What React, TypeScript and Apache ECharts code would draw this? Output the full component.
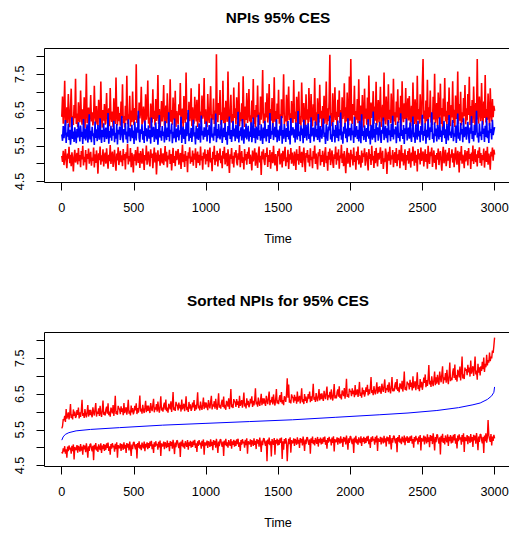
import React, { useEffect, useRef } from "react";
import * as echarts from "echarts";

// ---------- data (read / estimated from the reference) ----------
const titles = ["NPIs 95% CES", "Sorted NPIs for 95% CES"];
const xAxisTitle = "Time";
const xTicks = [0, 500, 1000, 1500, 2000, 2500, 3000];
const yTicks = [4.5, 5, 5.5, 6, 6.5, 7, 7.5, 8];
const yLabels = [4.5, 5.5, 6.5, 7.5];
const timeRange = [1, 3000];

// Panel 1: upper limit (red), sampled evenly over time 1..3000
const upperNPI = [
  6.31, 6.88, 6.12, 6.45, 7.32, 6.05, 6.22, 6.58, 6.14, 6.95, 6.38, 6.02, 6.47, 7.10, 6.19, 6.33, 6.08, 6.64, 6.27, 7.38,
  6.11, 6.40, 6.03, 6.72, 6.25, 6.16, 7.05, 6.35, 6.09, 6.52, 6.21, 6.86, 6.00, 6.43, 7.52, 6.13, 6.29, 6.57, 6.06, 6.36,
  6.92, 6.18, 6.44, 6.07, 6.26, 7.18, 6.34, 6.10, 6.61, 6.23, 6.04, 6.79, 6.39, 6.15, 7.30, 6.28, 6.01, 6.50, 6.20, 6.67,
  6.09, 6.37, 6.98, 6.12, 6.24, 6.55, 6.05, 7.12, 6.30, 6.17, 6.46, 6.02, 6.83, 6.26, 6.11, 7.41, 6.35, 6.07, 6.59, 6.19,
  6.42, 6.06, 6.74, 6.28, 7.22, 6.13, 6.33, 6.01, 6.62, 6.21, 7.46, 6.10, 6.38, 6.24, 6.90, 6.04, 6.49, 6.16, 7.02, 6.31,
  6.08, 6.56, 6.22, 7.78, 6.14, 6.35, 6.03, 6.71, 6.27, 6.45, 7.15, 6.09, 6.19, 6.60, 6.32, 6.05, 6.94, 6.23, 6.41, 7.33,
  6.12, 6.29, 6.00, 6.68, 6.37, 6.15, 7.08, 6.25, 6.48, 6.07, 6.81, 6.20, 6.34, 7.48, 6.11, 6.53, 6.02, 6.26, 6.75, 6.18,
  6.44, 7.20, 6.06, 6.31, 6.63, 6.13, 6.97, 6.39, 6.04, 6.25, 7.36, 6.17, 6.50, 6.09, 6.85, 6.30, 6.21, 7.04, 6.03, 6.47,
  6.27, 6.10, 6.66, 6.36, 7.26, 6.08, 6.22, 6.54, 6.01, 6.89, 6.32, 6.14, 7.55, 6.24, 6.42, 6.06, 6.73, 6.19, 6.35, 7.11,
  6.05, 6.58, 6.28, 6.12, 6.87, 6.40, 6.18, 6.79, 6.03, 6.33, 7.24, 6.15, 6.46, 6.09, 6.91, 6.26, 6.37, 7.40, 6.11, 6.52,
  6.20, 6.02, 6.95, 6.31, 6.14, 6.63, 7.17, 6.07, 6.38, 6.23, 6.82, 6.11, 6.49, 6.04, 8.06, 6.29, 6.16, 6.70, 6.36, 7.06,
  6.09, 6.44, 6.21, 7.32, 6.13, 6.57, 6.02, 6.76, 6.34, 6.17, 7.58, 6.26, 6.06, 6.48, 6.93, 6.15, 6.39, 6.01, 7.13, 6.28,
  6.55, 6.10, 6.86, 6.24, 6.37, 7.28, 6.05, 6.44, 6.19, 6.69, 6.12, 7.45, 6.32, 6.03, 6.60, 6.22, 6.98, 6.14, 6.41, 7.09,
  6.18, 6.35, 6.07, 6.77, 6.26, 7.37, 6.11, 6.50, 6.01, 6.64, 6.30, 7.19, 6.16, 6.43, 6.08, 6.88, 6.23, 6.56, 7.62, 6.13,
  6.40, 6.04, 6.72, 6.29, 6.97, 6.15, 6.36, 7.23, 6.09, 6.53, 6.20, 6.84, 6.02, 6.31, 7.42, 6.17, 6.47, 6.06, 6.68, 6.25,
  7.07, 6.12, 6.38, 6.00, 6.80, 6.27, 6.49, 7.50, 6.10, 6.34, 6.18, 6.93, 6.05, 6.59, 7.16, 6.22, 6.41, 6.08, 6.75, 6.30,
  6.14, 7.34, 6.25, 6.46, 6.03, 6.87, 6.19, 6.62, 7.02, 6.11, 6.33, 6.06, 7.27, 6.40, 6.16, 6.70, 6.28, 6.01, 6.94, 6.23,
  6.52, 6.09, 7.12, 6.37, 6.17, 6.95, 6.29, 6.04, 6.66, 6.21, 7.40, 6.13, 6.44, 6.07, 6.83, 6.32, 6.15, 7.21, 6.26, 6.48,
  6.02, 6.61, 6.24, 6.90, 6.12, 6.35, 7.30, 6.08, 6.55, 6.19, 6.76, 8.05, 6.27, 6.42, 6.05, 6.97, 6.16, 6.38, 7.14, 6.22,
  6.45, 6.06, 6.79, 6.31, 7.05, 6.14, 6.50, 6.03, 6.86, 6.25, 6.40, 7.25, 6.10, 6.58, 6.18, 6.99, 6.33, 6.07, 7.44, 6.20,
  7.93, 6.28, 6.11, 6.67, 6.36, 7.18, 6.04, 6.47, 6.23, 6.81, 6.13, 7.36, 6.30, 6.08, 6.63, 6.21, 6.92, 6.39, 6.01, 7.10,
  6.26, 6.54, 6.09, 6.85, 6.17, 7.47, 6.34, 6.05, 6.71, 6.28, 6.43, 7.03, 6.12, 6.60, 6.20, 7.29, 6.07, 6.37, 6.78, 6.15,
  6.48, 7.15, 6.03, 6.32, 6.65, 6.19, 7.55, 6.27, 6.10, 6.88, 6.40, 6.06, 7.22, 6.24, 6.51, 6.13, 6.96, 6.35, 6.02, 7.38,
  6.18, 6.44, 6.08, 6.74, 6.29, 7.08, 6.14, 6.57, 6.22, 6.90, 6.04, 7.31, 6.36, 6.16, 6.69, 6.25, 7.12, 6.09, 6.46, 6.83,
  6.21, 6.89, 6.33, 6.05, 6.62, 6.17, 7.27, 6.41, 6.11, 6.80, 6.28, 6.03, 7.46, 6.23, 6.53, 6.12, 6.94, 6.38, 6.07, 7.19,
  7.93, 6.26, 6.49, 6.10, 6.77, 6.19, 7.35, 6.04, 6.58, 6.30, 7.05, 6.15, 6.42, 6.08, 6.87, 6.24, 7.52, 6.13, 6.37, 6.70,
  6.06, 6.99, 6.27, 6.45, 7.24, 6.11, 6.56, 6.02, 6.82, 6.32, 7.40, 6.18, 6.48, 6.09, 6.73, 6.22, 7.13, 6.35, 6.05, 6.64,
  6.29, 7.31, 6.14, 6.51, 6.03, 6.91, 6.25, 6.39, 7.58, 6.12, 6.67, 6.20, 7.01, 6.07, 6.44, 6.17, 6.84, 6.33, 7.20, 6.10,
  6.55, 6.21, 6.95, 6.36, 7.43, 6.08, 6.61, 6.26, 6.78, 6.14, 7.16, 6.40, 6.04, 6.70, 6.23, 7.93, 6.31, 6.12, 6.88, 6.46,
  6.19, 7.26, 6.37, 6.09, 6.74, 6.28, 7.48, 6.15, 6.53, 6.22, 6.96, 6.34, 6.06, 7.11, 6.43, 6.18, 6.81, 6.30, 6.62, 6.48,
];

// Panel 1: point estimate (blue)
const pointNPI = [
  5.82, 5.64, 6.05, 5.71, 5.93, 6.22, 5.58, 5.87, 5.76, 6.12, 5.66, 5.95, 5.53, 5.80, 6.30, 5.69, 5.90, 5.61, 6.02, 5.78,
  5.57, 5.97, 5.73, 6.16, 5.84, 5.62, 6.07, 5.75, 5.89, 5.55, 6.25, 5.70, 5.99, 5.65, 5.86, 6.10, 5.59, 5.81, 6.38, 5.68,
  5.92, 5.60, 6.03, 5.77, 5.85, 5.52, 6.18, 5.72, 5.96, 5.63, 6.08, 5.79, 5.67, 6.27, 5.83, 5.58, 5.94, 5.74, 6.13, 5.61,
  5.88, 6.01, 5.69, 5.80, 6.42, 5.56, 5.91, 5.73, 6.06, 5.64, 5.98, 5.78, 6.20, 5.60, 5.86, 5.70, 6.11, 5.54, 5.95, 5.82,
  6.04, 5.66, 5.89, 6.33, 5.75, 5.59, 5.97, 5.81, 6.14, 5.68, 5.90, 5.57, 6.24, 5.76, 6.00, 5.63, 5.84, 6.09, 5.71, 5.93,
  5.55, 6.17, 5.79, 5.65, 6.02, 5.87, 6.48, 5.72, 5.60, 5.96, 5.83, 6.10, 5.67, 5.91, 5.58, 6.21, 5.77, 5.99, 5.62, 5.85,
  6.07, 5.70, 5.94, 5.56, 6.29, 5.74, 5.88, 6.03, 5.61, 5.80, 6.15, 5.68, 5.97, 5.53, 5.86, 6.36, 5.73, 5.92, 5.64, 6.05,
  5.78, 5.90, 5.59, 6.19, 5.82, 5.66, 6.01, 5.75, 6.44, 5.62, 5.95, 5.84, 6.12, 5.57, 5.89, 5.71, 6.26, 5.79, 5.60, 5.98,
  5.74, 6.09, 5.65, 5.93, 5.81, 6.31, 5.58, 5.87, 6.04, 5.69, 5.96, 5.55, 6.16, 5.77, 5.91, 6.50, 5.63, 5.85, 5.72, 6.00,
  5.61, 5.94, 6.23, 5.76, 5.88, 5.54, 6.06, 5.70, 5.99, 5.66, 6.13, 5.83, 5.59, 6.35, 5.79, 5.92, 5.67, 6.02, 5.75, 5.86,
  6.18, 5.62, 5.95, 5.80, 6.08, 5.57, 5.90, 6.27, 5.73, 5.84, 5.64, 6.03, 5.78, 6.40, 5.60, 5.97, 5.71, 6.11, 5.85, 5.68,
  5.93, 6.22, 5.58, 5.82, 6.00, 5.74, 6.14, 5.66, 5.89, 5.53, 6.05, 5.79, 6.32, 5.69, 5.94, 5.61, 5.87, 6.19, 5.76, 5.98,
  5.63, 6.09, 5.81, 5.70, 6.45, 5.59, 5.92, 5.77, 6.02, 5.65, 6.25, 5.84, 5.56, 5.96, 5.73, 6.12, 5.68, 5.88, 6.06, 5.62,
  5.90, 5.75, 6.16, 5.60, 5.86, 6.29, 5.72, 5.99, 5.57, 6.04, 5.80, 5.67, 6.37, 5.78, 5.93, 5.64, 6.10, 5.83, 5.55, 6.01,
  5.71, 6.20, 5.85, 5.62, 5.97, 5.76, 6.08, 5.58, 6.42, 5.69, 5.91, 5.81, 6.14, 5.66, 5.89, 6.03, 5.74, 6.24, 5.60, 5.95,
  5.82, 5.64, 6.06, 5.78, 6.33, 5.56, 5.94, 5.70, 6.11, 5.87, 5.61, 6.00, 5.75, 6.19, 5.68, 5.92, 5.54, 6.28, 5.79, 5.88,
  6.02, 5.73, 5.96, 5.59, 6.15, 5.84, 5.67, 6.47, 5.77, 5.90, 5.63, 6.07, 5.80, 5.98, 5.57, 6.23, 5.72, 5.86, 6.09, 5.65,
  5.94, 6.13, 5.69, 5.83, 5.58, 6.30, 5.76, 5.91, 6.01, 5.62, 5.88, 6.18, 5.74, 5.97, 5.66, 6.39, 5.79, 5.60, 6.05, 5.85,
  5.70, 5.99, 6.26, 5.75, 5.87, 5.55, 6.10, 5.81, 5.64, 6.04, 5.93, 6.35, 5.68, 5.82, 5.61, 6.16, 5.77, 5.95, 5.59, 6.08,
  5.86, 5.72, 6.21, 5.63, 5.96, 5.79, 6.43, 5.67, 5.90, 5.56, 6.03, 5.84, 6.14, 5.71, 5.98, 5.60, 6.27, 5.76, 5.89, 6.00,
  5.65, 6.12, 5.80, 5.93, 5.58, 6.31, 5.74, 5.87, 6.05, 5.69, 5.95, 5.62, 6.19, 5.83, 5.57, 6.38, 5.78, 5.91, 5.66, 6.07,
  5.88, 5.61, 6.00, 5.76, 6.24, 5.70, 5.92, 5.54, 6.09, 5.85, 5.67, 6.46, 5.73, 5.97, 5.60, 6.14, 5.81, 6.02, 5.64, 5.90,
  6.17, 5.77, 5.58, 5.95, 5.84, 6.29, 5.66, 5.89, 6.06, 5.71, 5.99, 5.59, 6.22, 5.80, 5.93, 5.63, 6.11, 5.75, 6.34, 5.68,
  5.96, 5.82, 6.04, 5.57, 5.90, 6.18, 5.72, 5.86, 5.62, 6.41, 5.78, 5.94, 5.69, 6.08, 5.55, 5.99, 5.83, 6.26, 5.65, 5.88,
  6.01, 5.70, 6.15, 5.79, 5.61, 5.97, 6.32, 5.74, 5.87, 5.58, 6.10, 5.85, 5.67, 6.20, 5.76, 5.92, 5.60, 6.05, 5.81, 6.37,
  5.64, 5.91, 5.78, 6.13, 5.56, 5.95, 5.73, 6.25, 5.83, 5.66, 6.02, 5.89, 6.44, 5.69, 5.84, 5.59, 6.16, 5.77, 5.98, 5.62,
  6.08, 5.86, 5.68, 6.30, 5.75, 5.93, 5.61, 6.04, 5.80, 6.19, 5.71, 5.96, 5.55, 6.11, 5.88, 5.65, 6.36, 5.79, 5.90, 5.72,
  5.99, 6.22, 5.63, 5.85, 5.76, 6.07, 5.58, 5.92, 6.40, 5.70, 5.87, 5.64, 6.14, 5.82, 5.97, 5.60, 6.27, 5.74, 5.89, 6.03,
  5.67, 5.94, 6.17, 5.78, 5.57, 6.01, 5.84, 6.33, 5.69, 5.91, 5.62, 6.09, 5.80, 5.95, 6.48, 5.73, 5.86, 5.59, 6.12, 5.77,
  5.90, 5.66, 6.20, 5.83, 5.98, 5.61, 6.06, 5.75, 6.29, 5.71, 5.93, 5.58, 6.14, 5.86, 5.97, 5.68, 6.23, 5.80, 5.92, 6.02,
];

// Panel 1: lower limit (red)
const lowerNPI = [
  5.22, 5.05, 5.36, 4.96, 5.18, 5.41, 5.09, 4.87, 5.28, 5.14, 5.47, 5.01, 5.25, 4.93, 5.32, 5.11, 4.78, 5.20, 5.39, 5.03,
  5.16, 5.30, 4.98, 5.44, 5.07, 5.24, 4.90, 5.35, 5.12, 5.50, 4.95, 5.19, 5.04, 5.38, 4.83, 5.27, 5.13, 5.42, 5.00, 5.21,
  5.33, 4.94, 5.17, 5.08, 5.45, 4.89, 5.26, 5.02, 5.37, 5.15, 4.72, 5.29, 5.10, 5.48, 4.97, 5.23, 5.06, 5.40, 4.92, 5.19,
  5.31, 5.00, 5.43, 5.12, 4.86, 5.25, 5.07, 5.52, 4.99, 5.20, 5.34, 4.91, 5.14, 5.39, 5.03, 4.80, 5.28, 5.09, 5.46, 4.96,
  5.18, 5.36, 5.04, 5.23, 4.93, 5.41, 5.10, 5.27, 4.84, 5.32, 5.15, 5.55, 4.98, 5.21, 5.06, 5.44, 4.90, 5.30, 5.12, 4.75,
  5.26, 5.08, 5.38, 4.95, 5.19, 5.47, 5.02, 5.29, 4.88, 5.35, 5.13, 5.00, 5.42, 5.17, 4.82, 5.24, 5.09, 5.51, 4.97, 5.22,
  5.34, 5.05, 4.92, 5.40, 5.16, 5.28, 4.87, 5.20, 5.45, 5.03, 5.31, 4.70, 5.14, 5.37, 5.07, 5.25, 4.94, 5.43, 5.11, 5.01,
  5.29, 4.96, 5.18, 5.49, 5.06, 5.33, 4.89, 5.23, 5.12, 5.39, 4.99, 5.27, 4.81, 5.15, 5.44, 5.02, 5.21, 4.93, 5.36, 5.10,
  5.24, 5.41, 4.97, 5.13, 5.30, 4.85, 5.19, 5.53, 5.04, 5.26, 4.91, 5.35, 5.08, 5.22, 4.76, 5.32, 5.15, 5.46, 5.00, 5.20,
  5.05, 5.37, 4.94, 5.28, 5.11, 5.43, 4.88, 5.17, 5.34, 5.02, 5.25, 4.95, 5.48, 5.09, 5.21, 4.83, 5.31, 5.14, 5.40, 4.98,
  5.27, 5.07, 5.39, 4.90, 5.20, 5.45, 5.03, 5.16, 4.79, 5.33, 5.12, 5.50, 4.96, 5.24, 5.06, 5.36, 4.92, 5.29, 5.10, 5.42,
  5.01, 5.23, 4.87, 5.35, 5.14, 5.47, 4.98, 5.19, 5.30, 4.93, 5.40, 5.08, 4.74, 5.26, 5.13, 5.44, 5.00, 5.22, 4.89, 5.32,
  5.17, 5.38, 5.04, 4.95, 5.29, 5.11, 5.52, 4.90, 5.21, 5.35, 5.02, 5.18, 4.84, 5.41, 5.09, 5.27, 4.97, 5.33, 5.14, 5.46,
  4.99, 5.25, 5.10, 4.81, 5.37, 5.06, 5.20, 5.43, 4.94, 5.31, 5.15, 4.88, 5.28, 5.48, 5.03, 5.22, 4.68, 5.34, 5.12, 5.40,
  5.08, 4.96, 5.30, 5.19, 5.45, 4.91, 5.24, 5.05, 5.38, 4.86, 5.16, 5.32, 5.01, 5.50, 5.13, 4.95, 5.27, 5.09, 4.79, 5.35,
  5.21, 5.42, 4.98, 5.14, 5.29, 4.89, 5.36, 5.07, 5.23, 5.47, 4.93, 5.18, 5.04, 5.39, 4.85, 5.26, 5.11, 5.44, 5.00, 5.31,
  5.12, 4.94, 5.34, 5.20, 4.82, 5.40, 5.09, 5.27, 4.97, 5.49, 5.15, 5.02, 5.33, 4.90, 5.22, 5.45, 5.06, 4.77, 5.30, 5.17,
  5.38, 5.03, 5.25, 4.92, 5.43, 5.10, 5.19, 4.87, 5.35, 5.14, 5.51, 4.99, 5.28, 5.08, 4.84, 5.32, 5.21, 5.41, 4.95, 5.24,
  5.05, 5.36, 5.16, 4.91, 5.29, 5.46, 5.01, 5.22, 4.80, 5.33, 5.11, 5.42, 4.96, 5.18, 5.37, 5.04, 4.88, 5.26, 5.13, 5.48,
  4.97, 5.31, 5.09, 5.40, 4.86, 5.23, 5.15, 5.53, 5.02, 5.28, 4.93, 5.35, 5.07, 4.73, 5.20, 5.44, 5.00, 5.30, 5.17, 4.90,
  5.39, 5.12, 5.26, 4.95, 5.45, 5.05, 5.21, 4.83, 5.34, 5.10, 5.48, 4.98, 5.24, 5.14, 4.89, 5.37, 5.03, 5.29, 5.19, 5.43,
  4.94, 5.18, 5.32, 5.06, 4.81, 5.41, 5.13, 5.27, 4.96, 5.50, 5.09, 5.22, 4.88, 5.35, 5.01, 5.44, 5.16, 4.92, 5.30, 5.11,
  5.25, 5.46, 4.99, 5.20, 5.36, 4.85, 5.15, 5.04, 5.42, 5.28, 4.71, 5.19, 5.33, 5.08, 5.47, 4.97, 5.23, 5.12, 5.38, 4.90,
  5.17, 5.32, 5.02, 5.44, 4.93, 5.26, 5.10, 5.39, 4.87, 5.21, 5.52, 5.06, 5.30, 4.95, 5.14, 5.40, 4.82, 5.24, 5.09, 5.35,
  5.00, 5.43, 5.15, 4.89, 5.31, 5.07, 5.48, 5.19, 4.94, 5.36, 5.03, 5.25, 4.78, 5.41, 5.12, 5.29, 4.98, 5.45, 5.08, 5.22,
  5.34, 4.92, 5.18, 5.40, 5.05, 5.27, 4.86, 5.50, 5.13, 4.99, 5.33, 5.21, 5.45, 4.91, 5.16, 5.37, 5.02, 5.24, 4.84, 5.30,
  5.11, 5.42, 4.96, 5.23, 5.35, 5.06, 4.80, 5.28, 5.47, 5.01, 5.19, 5.39, 4.93, 5.14, 5.31, 5.08, 5.44, 4.88, 5.26, 5.17,
  5.40, 5.03, 5.29, 4.90, 5.20, 5.46, 5.12, 4.97, 5.36, 5.22, 4.75, 5.33, 5.09, 5.49, 5.00, 5.25, 5.15, 4.87, 5.38, 5.06,
  5.21, 5.35, 4.95, 5.44, 5.13, 5.27, 4.85, 5.31, 5.07, 5.51, 4.99, 5.18, 5.41, 5.04, 5.26, 4.92, 5.37, 5.16, 5.46, 5.02,
  5.30, 4.94, 5.24, 5.10, 5.42, 4.89, 5.19, 5.36, 5.05, 5.47, 4.97, 5.28, 5.14, 4.83, 5.33, 5.20, 5.45, 5.08, 5.39, 5.25,
];

// Panel 2: sorted point estimate (blue), smooth curve
const sortedTime = [1, 10, 25, 50, 100, 200, 400, 700, 1000, 1300, 1600, 1900, 2200, 2400, 2600, 2750, 2850, 2900, 2950, 2980, 2995, 3000];
const sortedPoint = [5.21, 5.30, 5.37, 5.42, 5.47, 5.51, 5.56, 5.63, 5.68, 5.73, 5.78, 5.85, 5.92, 5.97, 6.04, 6.12, 6.20, 6.25, 6.35, 6.45, 6.55, 6.70];

// Panel 2: upper limit ordered by the point estimate
const sortedUpper = [
  5.54, 5.60, 5.80, 5.77, 5.89, 5.72, 6.08, 5.81, 5.90, 5.99, 5.79, 5.95, 6.22, 5.83, 5.93, 5.79, 6.07, 5.89, 6.01, 5.83,
  5.88, 6.05, 5.92, 6.12, 5.82, 5.99, 5.86, 6.03, 6.34, 5.89, 5.97, 5.83, 6.08, 5.93, 5.85, 6.00, 6.19, 5.87, 6.06, 5.91,
  6.06, 5.93, 5.85, 6.13, 5.99, 5.90, 6.08, 6.25, 5.87, 6.01, 5.95, 6.10, 5.89, 6.17, 5.97, 5.86, 6.04, 6.32, 5.92, 6.00,
  5.90, 6.07, 6.15, 5.95, 6.24, 5.91, 6.01, 5.87, 6.12, 6.06, 5.96, 6.19, 5.89, 6.08, 6.45, 5.94, 6.02, 5.92, 6.17, 6.10,
  6.07, 5.94, 6.16, 6.00, 6.10, 5.91, 6.25, 5.97, 6.05, 6.13, 5.92, 6.08, 6.34, 5.95, 6.04, 5.90, 6.18, 5.99, 6.11, 5.93,
  6.00, 6.17, 6.04, 6.24, 5.94, 6.11, 5.98, 6.15, 6.46, 6.01, 6.09, 5.95, 6.20, 6.05, 5.97, 6.12, 6.31, 5.99, 6.18, 6.03,
  6.18, 6.05, 5.97, 6.25, 6.11, 6.02, 6.20, 6.37, 5.99, 6.13, 6.07, 6.22, 6.01, 6.29, 6.09, 5.98, 6.16, 6.44, 6.04, 6.12,
  6.01, 6.18, 6.26, 6.06, 6.35, 6.02, 6.12, 5.98, 6.23, 6.17, 6.07, 6.30, 6.00, 6.19, 6.56, 6.05, 6.13, 6.03, 6.28, 6.21,
  6.17, 6.04, 6.26, 6.10, 6.20, 6.01, 6.35, 6.07, 6.15, 6.23, 6.02, 6.18, 6.44, 6.05, 6.14, 6.00, 6.28, 6.09, 6.21, 6.03,
  6.09, 6.26, 6.13, 6.33, 6.03, 6.20, 6.07, 6.24, 6.55, 6.10, 6.18, 6.04, 6.29, 6.14, 6.06, 6.21, 6.40, 6.08, 6.27, 6.12,
  6.26, 6.13, 6.05, 6.33, 6.19, 6.10, 6.28, 6.45, 6.07, 6.21, 6.15, 6.30, 6.09, 6.37, 6.17, 6.06, 6.24, 6.52, 6.12, 6.20,
  6.09, 6.26, 6.34, 6.14, 6.43, 6.10, 6.20, 6.06, 6.31, 6.25, 6.15, 6.38, 6.08, 6.27, 6.64, 6.13, 6.21, 6.11, 6.36, 6.29,
  6.27, 6.14, 6.36, 6.20, 6.30, 6.11, 6.45, 6.17, 6.25, 6.33, 6.12, 6.28, 6.54, 6.15, 6.24, 6.10, 6.38, 6.19, 6.31, 6.13,
  6.20, 6.37, 6.24, 6.44, 6.14, 6.31, 6.18, 6.35, 6.66, 6.21, 6.29, 6.15, 6.40, 6.25, 6.17, 6.32, 6.51, 6.19, 6.38, 6.23,
  6.38, 6.25, 6.17, 6.45, 6.31, 6.22, 6.40, 6.57, 6.19, 6.33, 6.27, 6.42, 6.21, 6.49, 6.29, 6.18, 6.36, 6.64, 6.24, 6.32,
  6.22, 6.39, 6.47, 6.27, 6.56, 6.23, 6.33, 6.19, 6.44, 6.38, 6.28, 6.51, 6.94, 6.40, 6.77, 6.26, 6.34, 6.24, 6.49, 6.42,
  6.39, 6.26, 6.48, 6.32, 6.42, 6.23, 6.57, 6.29, 6.37, 6.45, 6.24, 6.40, 6.66, 6.27, 6.36, 6.22, 6.50, 6.31, 6.43, 6.25,
  6.33, 6.50, 6.37, 6.57, 6.27, 6.44, 6.31, 6.48, 6.79, 6.34, 6.42, 6.28, 6.53, 6.38, 6.30, 6.45, 6.64, 6.32, 6.51, 6.36,
  6.52, 6.39, 6.31, 6.59, 6.45, 6.36, 6.54, 6.71, 6.33, 6.47, 6.41, 6.56, 6.35, 6.63, 6.43, 6.32, 6.50, 6.78, 6.38, 6.46,
  6.38, 6.55, 6.63, 6.43, 6.72, 6.39, 6.49, 6.35, 6.60, 6.54, 6.44, 6.67, 6.37, 6.56, 6.93, 6.42, 6.50, 6.40, 6.65, 6.58,
  6.57, 6.44, 6.66, 6.50, 6.60, 6.41, 6.75, 6.47, 6.55, 6.63, 6.42, 6.58, 6.84, 6.45, 6.54, 6.40, 6.68, 6.49, 6.61, 6.43,
  6.52, 6.69, 6.56, 6.76, 6.46, 6.63, 6.50, 6.67, 6.98, 6.53, 6.61, 6.47, 6.72, 6.57, 6.49, 6.64, 6.83, 6.51, 6.70, 6.55,
  6.72, 6.59, 6.51, 6.79, 6.65, 6.56, 6.74, 6.91, 6.53, 6.67, 6.61, 6.76, 6.55, 6.83, 6.63, 6.52, 6.70, 6.98, 6.58, 6.66,
  6.58, 6.75, 6.83, 6.63, 6.92, 6.59, 6.69, 6.55, 6.80, 6.74, 6.64, 6.87, 6.57, 6.76, 7.13, 6.62, 6.70, 6.60, 6.85, 6.78,
  6.79, 6.63, 6.90, 6.70, 6.82, 6.60, 7.00, 6.67, 6.76, 6.86, 6.61, 6.80, 7.11, 6.64, 6.75, 6.58, 6.92, 6.69, 6.84, 6.62,
  6.76, 6.96, 6.81, 7.05, 6.69, 6.89, 6.73, 6.94, 7.31, 6.77, 6.87, 6.70, 7.00, 6.82, 6.72, 6.90, 7.13, 6.75, 6.97, 6.79,
  7.04, 6.87, 6.76, 7.13, 6.95, 6.83, 7.06, 7.28, 6.79, 6.97, 6.89, 7.09, 6.82, 7.18, 6.92, 6.78, 7.01, 7.38, 6.86, 6.96,
  6.89, 7.11, 7.22, 6.95, 7.33, 6.90, 7.03, 6.85, 7.18, 7.10, 6.97, 7.27, 6.88, 7.12, 7.55, 6.94, 7.05, 6.92, 7.24, 7.15,
  7.20, 7.03, 7.32, 7.11, 7.24, 6.99, 7.44, 7.07, 7.18, 7.28, 7.01, 7.22, 7.55, 7.05, 7.16, 6.90, 7.35, 7.10, 7.25, 7.02,
  7.28, 7.15, 7.40, 7.20, 7.52, 7.12, 7.35, 7.25, 7.60, 7.30, 7.45, 7.38, 7.66, 7.42, 7.55, 7.50, 7.72, 7.65, 7.85, 8.08,
];

// Panel 2: lower limit ordered by the point estimate
const sortedLower = [
  4.88, 4.84, 4.98, 4.89, 5.04, 4.83, 4.95, 4.72, 5.03, 4.90, 5.06, 4.95, 5.00, 4.83, 5.05, 4.90, 5.09, 4.67, 5.02, 4.95,
  4.94, 5.07, 4.86, 5.05, 4.99, 4.89, 5.10, 4.92, 5.03, 4.80, 5.08, 4.95, 5.06, 4.87, 5.12, 4.96, 4.72, 5.04, 4.91, 5.09,
  5.11, 4.98, 4.90, 5.05, 4.65, 5.08, 4.95, 5.13, 4.92, 5.03, 4.88, 5.09, 5.00, 4.93, 5.12, 4.85, 5.06, 4.96, 5.10, 4.91,
  5.08, 4.94, 5.12, 4.99, 5.14, 4.91, 5.04, 4.80, 5.10, 4.97, 5.13, 5.01, 5.06, 4.89, 5.11, 4.96, 5.15, 4.72, 5.07, 5.00,
  4.99, 5.12, 4.91, 5.10, 5.04, 4.94, 5.15, 4.97, 5.08, 4.85, 5.13, 5.00, 5.11, 4.92, 5.17, 5.01, 4.77, 5.09, 4.96, 5.14,
  5.16, 5.03, 4.95, 5.10, 4.70, 5.13, 5.00, 5.18, 4.97, 5.08, 4.93, 5.14, 5.05, 4.98, 5.17, 4.90, 5.11, 5.01, 5.15, 4.96,
  5.13, 4.99, 5.17, 5.04, 5.19, 4.96, 5.09, 4.85, 5.15, 5.02, 5.18, 5.06, 5.11, 4.94, 5.16, 5.01, 5.20, 4.77, 5.12, 5.05,
  5.04, 5.17, 4.96, 5.15, 5.09, 4.99, 5.20, 5.02, 5.13, 4.90, 5.18, 5.05, 5.16, 4.97, 5.22, 5.06, 4.82, 5.14, 5.01, 5.19,
  5.20, 5.07, 4.99, 5.14, 4.74, 5.17, 5.04, 5.22, 5.01, 5.12, 4.97, 5.18, 5.09, 5.02, 5.21, 4.94, 5.15, 5.05, 5.19, 5.00,
  5.16, 5.02, 5.20, 5.07, 5.22, 4.99, 5.12, 4.88, 5.18, 5.05, 5.21, 5.09, 5.14, 4.97, 5.19, 5.04, 5.23, 4.80, 5.15, 5.08,
  5.07, 5.20, 4.99, 5.18, 5.12, 5.02, 5.23, 5.05, 5.16, 4.93, 5.21, 5.08, 5.19, 5.00, 5.25, 5.09, 4.85, 5.17, 5.04, 5.22,
  5.23, 5.10, 5.02, 5.17, 4.77, 5.20, 5.07, 5.25, 5.04, 5.15, 5.00, 5.21, 5.12, 5.05, 5.24, 4.97, 5.18, 5.08, 5.22, 5.03,
  5.19, 5.05, 5.23, 5.10, 5.25, 5.02, 5.15, 4.91, 5.21, 5.08, 5.24, 5.12, 5.17, 5.00, 5.22, 5.07, 5.26, 4.83, 5.18, 5.11,
  5.10, 5.23, 5.02, 5.21, 5.15, 5.05, 5.26, 5.08, 5.19, 4.96, 5.24, 5.11, 5.22, 5.03, 5.28, 5.12, 4.88, 5.20, 5.07, 5.25,
  5.26, 5.13, 5.05, 5.20, 4.62, 5.23, 5.10, 5.28, 5.07, 5.18, 4.75, 5.24, 5.15, 5.08, 5.27, 4.80, 5.21, 5.11, 5.25, 5.06,
  5.22, 5.08, 5.26, 5.13, 5.28, 4.68, 5.18, 4.94, 5.24, 5.11, 5.27, 5.15, 4.62, 5.03, 5.25, 5.10, 5.29, 4.86, 5.21, 5.14,
  5.13, 5.26, 5.05, 5.24, 5.18, 5.08, 5.29, 5.11, 5.22, 4.99, 5.27, 5.14, 5.25, 5.06, 5.31, 5.15, 4.91, 5.23, 5.10, 5.28,
  5.29, 5.16, 5.08, 5.23, 4.83, 5.26, 5.13, 5.31, 5.10, 5.21, 5.06, 5.27, 5.18, 5.11, 5.30, 5.03, 5.24, 5.14, 5.28, 5.09,
  5.25, 5.11, 5.29, 5.16, 5.31, 5.08, 5.21, 4.97, 5.27, 5.14, 5.30, 5.18, 5.23, 5.06, 5.28, 5.13, 5.32, 4.89, 5.24, 5.17,
  5.16, 5.29, 5.08, 5.27, 5.21, 5.11, 5.32, 5.14, 5.25, 5.02, 5.30, 5.17, 5.28, 5.09, 5.34, 5.18, 4.94, 5.26, 5.13, 5.31,
  5.31, 5.18, 5.10, 5.25, 4.85, 5.28, 5.15, 5.33, 5.12, 5.23, 5.08, 5.29, 5.20, 5.13, 5.32, 5.05, 5.26, 5.16, 5.30, 5.11,
  5.27, 5.13, 5.31, 5.18, 5.33, 5.10, 5.23, 4.99, 5.29, 5.16, 5.32, 5.20, 5.25, 5.08, 5.30, 5.15, 5.34, 4.91, 5.26, 5.19,
  5.17, 5.30, 5.09, 5.28, 5.22, 5.12, 5.33, 5.15, 5.26, 5.03, 5.31, 5.18, 5.29, 5.10, 5.35, 5.19, 4.95, 5.27, 5.14, 5.32,
  5.33, 5.20, 5.12, 5.27, 4.87, 5.30, 5.17, 5.35, 5.14, 5.25, 5.10, 5.31, 5.22, 5.15, 5.34, 5.07, 5.28, 5.18, 5.32, 5.13,
  5.28, 5.14, 5.32, 5.19, 5.34, 5.11, 5.24, 5.00, 5.30, 5.17, 5.33, 5.21, 5.26, 5.09, 5.31, 5.16, 5.35, 4.92, 5.27, 5.20,
  5.18, 5.34, 5.09, 5.31, 5.24, 5.12, 5.37, 5.16, 5.29, 5.01, 5.35, 5.19, 5.33, 5.10, 5.40, 5.21, 4.92, 5.30, 5.15, 5.36,
  5.36, 5.21, 5.11, 5.29, 4.81, 5.33, 5.17, 5.39, 5.13, 5.27, 5.09, 5.34, 5.23, 5.15, 5.37, 5.05, 5.30, 5.18, 5.35, 5.12,
  5.31, 5.14, 5.36, 5.20, 5.38, 5.11, 5.26, 4.98, 5.34, 5.18, 5.37, 5.23, 5.29, 5.08, 5.35, 5.17, 5.40, 4.88, 5.30, 5.22,
  5.19, 5.35, 5.10, 5.32, 5.25, 5.13, 5.38, 5.17, 5.30, 5.02, 5.36, 5.20, 5.34, 5.11, 5.41, 5.22, 4.93, 5.31, 5.16, 5.37,
  5.37, 5.22, 5.12, 5.30, 4.85, 5.34, 5.18, 5.40, 5.14, 5.28, 5.77, 5.35, 5.24, 5.16, 5.38, 5.06, 5.31, 5.19, 5.36, 5.26,
];

// ---------- presentation ----------
const FONT = '"Liberation Sans", Arial, Helvetica, sans-serif';
const RED = "#FF0000";
const BLUE = "#0000FF";

// values are sampled evenly over the time range
function overTime(values: number[]): number[][] {
  const n = values.length;
  const [t0, t1] = timeRange;
  return values.map((v, i) => [t0 + (i * (t1 - t0)) / (n - 1), v]);
}

export default function App() {
  const ref = useRef<HTMLDivElement>(null);

  useEffect(() => {
    if (!ref.current) return;
    const chart = echarts.init(ref.current, null, { renderer: "svg" });

    const gridTops = [48.5, 332.5];
    const gridH = 134;
    const xMin = -118.96;
    const xMax = 3119.96;
    const yMin = 4.472;
    const yMax = 8.224;

    const grids = gridTops.map((top) => ({
      left: 44.5,
      top,
      width: 467.4,
      height: gridH,
      show: true,
      borderColor: "#000",
      borderWidth: 1,
      backgroundColor: "transparent",
      containLabel: false,
    }));

    const xAxes = gridTops.map((_, gi) => ({
      type: "value",
      gridIndex: gi,
      min: xMin,
      max: xMax,
      axisLine: { show: false, onZero: false },
      axisTick: {
        show: true,
        inside: false,
        length: 8,
        lineStyle: { color: "#000", width: 1 },
        customValues: xTicks,
      },
      axisLabel: {
        customValues: xTicks,
        margin: 19,
        fontSize: 12.7,
        color: "#000",
        fontFamily: FONT,
        formatter: (v: number) => String(v),
      },
      splitLine: { show: false },
    }));

    const yAxes = gridTops.map((_, gi) => ({
      type: "value",
      gridIndex: gi,
      min: yMin,
      max: yMax,
      axisLine: { show: false, onZero: false },
      axisTick: {
        show: true,
        inside: false,
        length: 8,
        lineStyle: { color: "#000", width: 1 },
        customValues: yTicks,
      },
      axisLabel: {
        customValues: yLabels,
        rotate: 90,
        margin: 18,
        fontSize: 12.7,
        color: "#000",
        fontFamily: FONT,
        formatter: (v: number) => String(v),
      },
      splitLine: { show: false },
    }));

    const line = (data: number[][], color: string, gi: number, width: number) => ({
      type: "line",
      xAxisIndex: gi,
      yAxisIndex: gi,
      data,
      showSymbol: false,
      symbol: "none",
      silent: true,
      lineStyle: { color, width, join: "bevel" },
      z: 2,
    });

    const sortedPointData = sortedTime.map((t, i) => [t, sortedPoint[i]]);

    const series = [
      line(overTime(upperNPI), RED, 0, 1.6),
      line(overTime(lowerNPI), RED, 0, 1.6),
      line(overTime(pointNPI), BLUE, 0, 1.6),
      line(overTime(sortedUpper), RED, 1, 1.4),
      line(overTime(sortedLower), RED, 1, 1.4),
      line(sortedPointData, BLUE, 1, 1),
    ];

    const text = (t: string, x: number, y: number, size: number, bold: boolean) => ({
      type: "text",
      x,
      y,
      silent: true,
      style: {
        text: t,
        fill: "#000",
        fontSize: size,
        fontWeight: bold ? "bold" : "normal",
        fontFamily: FONT,
        align: "center",
        verticalAlign: "middle",
      },
    });

    chart.setOption({
      animation: false,
      backgroundColor: "#fff",
      textStyle: { fontFamily: FONT },
      grid: grids,
      xAxis: xAxes,
      yAxis: yAxes,
      series,
      graphic: [
        text(titles[0], 278, 17.5, 15.3, true),
        text(titles[1], 278, 300, 15.3, true),
        text(xAxisTitle, 278, 239, 12.7, false),
        text(xAxisTitle, 278, 523, 12.7, false),
      ],
    });

    return () => chart.dispose();
  }, []);

  return (
    <div
      style={{ position: "fixed", left: 0, top: 0, width: 509, height: 533, overflow: "hidden", background: "#fff" }}
    >
      <div ref={ref} style={{ width: 520, height: 533 }} />
    </div>
  );
}
